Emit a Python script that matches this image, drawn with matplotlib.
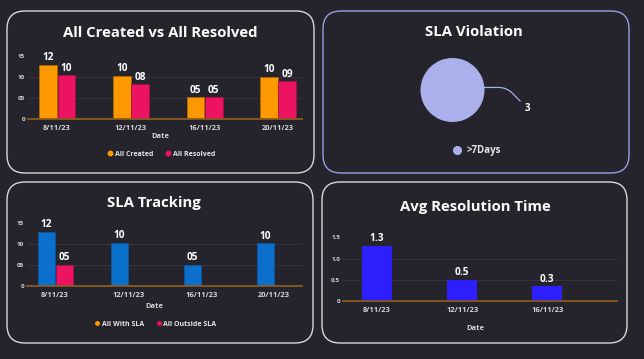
import matplotlib
matplotlib.use("Agg")
import matplotlib.pyplot as plt
from matplotlib.patches import FancyBboxPatch
from matplotlib.lines import Line2D

# ---------------- data ----------------
dates = ["8/11/23", "12/11/23", "16/11/23", "20/11/23"]
all_created = [12.9, 10.3, 5.2, 10.1]
all_resolved = [10.5, 8.3, 5.2, 9.0]

sla_with = [12.9, 10.3, 5.1, 10.1]
sla_outside = [5.1, 0, 0, 0]

violation_labels = [">7Days"]
violation_values = [3]

avg_dates = ["8/11/23", "12/11/23", "16/11/23"]
avg_resolution = [1.3, 0.5, 0.35]

count_ticks = [0, 5, 10, 15]
count_tick_labels = ["0", "05", "10", "15"]
avg_ticks = [0, 0.5, 1.0, 1.5]
avg_tick_labels = ["0", "0.5", "1.0", "1.5"]

# ---------------- style ----------------
W, H = 644, 359
BG = "#25242c"
FONT = ["Open Sans", "DejaVu Sans"]
plt.rcParams["font.family"] = FONT
ORANGE = "#ff9900"
PINK = "#ec1461"
BLUE = "#0a70cc"
INDIGO = "#2e1fff"
LAVENDER = "#a9b0ea"
BASE = "#8a5a1e"
GRID = "#35343e"
TICKC = "#d6d6d6"

fig = plt.figure(figsize=(W / 100, H / 100), dpi=100, facecolor=BG)
bg = fig.add_axes([0, 0, 1, 1])
bg.set_xlim(0, W)
bg.set_ylim(H, 0)
bg.axis("off")
bg.set_zorder(-1)


def rect(l, t, r, b):
    return [l / W, 1 - b / H, (r - l) / W, (b - t) / H]


panels = [
    (7, 11, 314, 173, "#d8d8d8"),
    (323, 11, 629, 173, "#9a9edc"),
    (7, 182, 313, 343, "#d8d8d8"),
    (322, 182, 627, 343, "#d8d8d8"),
]
for l, t, r, b, c in panels:
    bg.add_patch(FancyBboxPatch((l, t), r - l, b - t,
                                boxstyle="round,pad=0,rounding_size=18",
                                fc="none", ec=c, lw=1.0))

titles = [
    ("All Created vs All Resolved", 160, 33),
    ("SLA Violation", 474, 32),
    ("SLA Tracking", 154, 203),
    ("Avg Resolution Time", 475, 207),
]
for txt, x, y in titles:
    bg.text(x, y, txt, ha="center", va="center", color="white",
            fontsize=10.7, fontweight="bold")


def style_axes(ax, ticks, ticklabels, ymax, xlim, xt, xtl):
    ax.set_facecolor("none")
    ax.set_ylim(0, ymax)
    ax.set_xlim(*xlim)
    ax.set_yticks(ticks)
    ax.set_yticklabels(ticklabels)
    ax.set_xticks(xt)
    ax.set_xticklabels(xtl)
    for s in ax.spines.values():
        s.set_visible(False)
    ax.spines["bottom"].set_visible(True)
    ax.spines["bottom"].set_color(BASE)
    ax.spines["bottom"].set_linewidth(1.3)
    ax.spines["bottom"].set_zorder(5)
    ax.tick_params(axis="both", length=0, labelcolor=TICKC)
    ax.tick_params(axis="y", labelsize=4.5, pad=2)
    ax.tick_params(axis="x", labelsize=5.4, pad=4)
    for lb in ax.get_xticklabels() + ax.get_yticklabels():
        lb.set_fontweight("bold")
    ax.grid(axis="y", color=GRID, lw=0.7)
    ax.grid(axis="x", visible=False)
    ax.set_axisbelow(True)
    gl = ax.get_ygridlines()
    gl[0].set_visible(False)
    gl[-1].set_visible(False)


def label_fmt(vals):
    return ["%02d" % int(v) if v > 0 else "" for v in vals]


def mini_legend(ax, items, cx, cy, ms=3.2, fs=5.0, htp=0.2):
    handles = [Line2D([], [], marker="o", ls="", color=c, markersize=ms) for _, c in items]
    ax.legend(handles, [n for n, _ in items], loc="center",
              bbox_to_anchor=(cx / W, 1 - cy / H), bbox_transform=fig.transFigure,
              ncol=len(items), frameon=False, handletextpad=htp, columnspacing=1.6,
              handlelength=1.0, labelcolor="#e6e6e6",
              prop={"family": FONT, "size": fs, "weight": "bold"})


# ---------------- panel 1 ----------------
x4 = list(range(len(dates)))
bw = 0.24
ax1 = fig.add_axes(rect(28, 56, 302, 119))
b1 = ax1.bar([x - bw / 2 for x in x4], all_created, bw, color=ORANGE,
             edgecolor="#b36b00", lw=0.5)
b2 = ax1.bar([x + bw / 2 + 0.01 for x in x4], all_resolved, bw, color=PINK,
             edgecolor="#a80d45", lw=0.5)
style_axes(ax1, count_ticks, count_tick_labels, 15, (-0.395, 3.33), x4, dates)
for bars, vals in ((b1, all_created), (b2, all_resolved)):
    ax1.bar_label(bars, labels=label_fmt(vals), padding=1.0, fontsize=7.3,
                  color="white", fontweight="bold")
bg.text(160, 136, "Date", ha="center", va="center", color=TICKC,
        fontsize=5.4, fontweight="bold")
mini_legend(ax1, [("All Created", ORANGE), ("All Resolved", PINK)], 161, 154)

# ---------------- panel 3 ----------------
bw3 = 0.235
ax3 = fig.add_axes(rect(27, 222.7, 302, 286.3))
b3 = ax3.bar([x - bw3 / 2 for x in x4], sla_with, bw3, color=BLUE,
             edgecolor="#0a5aa5", lw=0.5)
b4 = ax3.bar([x + bw3 / 2 + 0.01 for x in x4], sla_outside, bw3, color=PINK,
             edgecolor="#a80d45", lw=0.5)
style_axes(ax3, count_ticks, count_tick_labels, 15, (-0.384, 3.38), x4, dates)
for bars, vals in ((b3, sla_with), (b4, sla_outside)):
    ax3.bar_label(bars, labels=label_fmt(vals), padding=1.0, fontsize=7.3,
                  color="white", fontweight="bold")
bg.text(154, 306, "Date", ha="center", va="center", color=TICKC,
        fontsize=5.4, fontweight="bold")
mini_legend(ax3, [("All With SLA", ORANGE), ("All Outside SLA", PINK)], 155, 324, ms=2.5)

# ---------------- panel 4 ----------------
x3 = list(range(len(avg_dates)))
ax4 = fig.add_axes(rect(343, 237.3, 617, 301))
b5 = ax4.bar(x3, avg_resolution, 0.35, color=INDIGO)
style_axes(ax4, avg_ticks, avg_tick_labels, 1.5, (-0.4, 2.82), x3, avg_dates)
ax4.bar_label(b5, labels=["%.1f" % v for v in avg_resolution], padding=1.0,
              fontsize=7.3, color="white", fontweight="bold")
bg.text(475, 328, "Date", ha="center", va="center", color=TICKC,
        fontsize=5.4, fontweight="bold")

# ---------------- panel 2 (pie) ----------------
ax2 = fig.add_axes(rect(420.5, 58, 484.5, 122))
ax2.pie(violation_values, colors=[LAVENDER], radius=1, startangle=0,
        wedgeprops={"linewidth": 0})
ax2.set_xlim(-1, 1)
ax2.set_ylim(-1, 1)
ax2.set_aspect("equal")
ax2.annotate(str(violation_values[0]), xy=(1.0, 0.08), xytext=(2.35, -0.58),
             ha="center", va="center", color="white", fontsize=7,
             fontweight="bold", annotation_clip=False,
             arrowprops=dict(arrowstyle="-", color=LAVENDER, lw=0.9,
                             connectionstyle="angle,angleA=135,angleB=0,rad=8",
                             shrinkA=2, shrinkB=0))
mini_legend(ax2, [(violation_labels[0], LAVENDER)], 477, 151, ms=5.5, fs=7.0, htp=0.5)

fig.savefig("out.png", dpi=100, facecolor=BG)
